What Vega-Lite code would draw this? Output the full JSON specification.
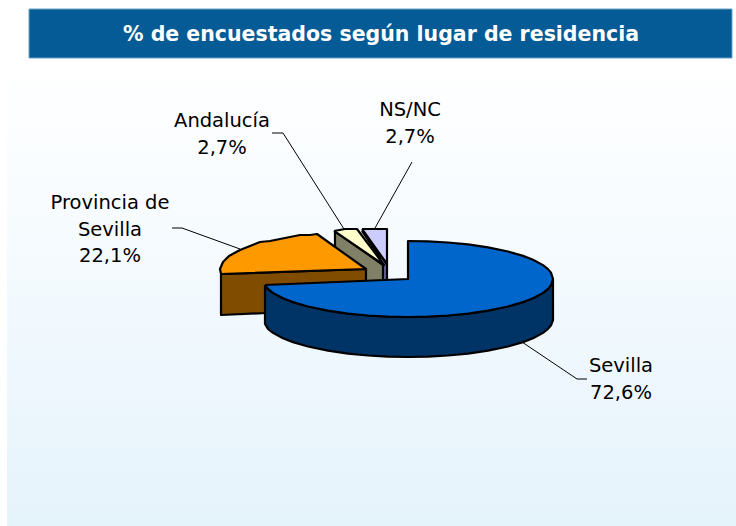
{"$schema":"https://vega.github.io/schema/vega-lite/v6.json","width":736,"height":526,"padding":0,"autosize":{"type":"fit","contains":"padding"},"background":"white","config":{"view":{"stroke":null}},
"datasets":{
"panels":[{"name":"fondo","x":7,"x2":736,"y":60,"y2":526}],
"header":[{"x":29,"x2":732,"y":9,"y2":58}],
"titleRow":[{"x":381,"y":35,"t":"% de encuestados según lugar de residencia"}],
"leaders":[
{"s":"Sevilla","o":1,"x":522,"y":342},{"s":"Sevilla","o":2,"x":577,"y":379},{"s":"Sevilla","o":3,"x":587,"y":379},
{"s":"Provincia","o":1,"x":172,"y":228},{"s":"Provincia","o":2,"x":182,"y":228},{"s":"Provincia","o":3,"x":240,"y":249},
{"s":"Andalucia","o":1,"x":272,"y":133},{"s":"Andalucia","o":2,"x":283,"y":133},{"s":"Andalucia","o":3,"x":344,"y":229},
{"s":"NSNC","o":1,"x":412,"y":162},{"s":"NSNC","o":2,"x":375,"y":228}],
"labels":[
{"cat":"Sevilla","share":72.6,"x":621,"y":366,"t":"Sevilla\n72,6%"},
{"cat":"Provincia de Sevilla","share":22.1,"x":110,"y":203,"t":"Provincia de\nSevilla\n22,1%"},
{"cat":"Andalucía","share":2.7,"x":222,"y":121,"t":"Andalucía\n2,7%"},
{"cat":"NS/NC","share":2.7,"x":410,"y":110,"t":"NS/NC\n2,7%"}],
"outlines":[
{"p":"a NS side","o":1,"x":362,"y":231},{"p":"a NS side","o":2,"x":387,"y":264},{"p":"a NS side","o":3,"x":387,"y":282},{"p":"a NS side","o":4,"x":380,"y":282},{"p":"a NS side","o":5,"x":380,"y":258},{"p":"a NS side","o":6,"x":362,"y":231},
{"p":"b NS top","o":1,"x":362,"y":229},{"p":"b NS top","o":2,"x":387,"y":229},{"p":"b NS top","o":3,"x":387,"y":264},{"p":"b NS top","o":4,"x":362,"y":229},
{"p":"c And side","o":1,"x":335,"y":231},{"p":"c And side","o":2,"x":383,"y":265},{"p":"c And side","o":3,"x":383,"y":282},{"p":"c And side","o":4,"x":335,"y":282},{"p":"c And side","o":5,"x":335,"y":231},
{"p":"d And top","o":1,"x":334,"y":231},{"p":"d And top","o":2,"x":345,"y":229},{"p":"d And top","o":3,"x":357,"y":229},{"p":"d And top","o":4,"x":384,"y":265},{"p":"d And top","o":5,"x":334,"y":231},
{"p":"e Prov side","o":1,"x":221,"y":274},{"p":"e Prov side","o":2,"x":366,"y":269},{"p":"e Prov side","o":3,"x":366,"y":295},{"p":"e Prov side","o":4,"x":300,"y":305},{"p":"e Prov side","o":5,"x":266,"y":313},{"p":"e Prov side","o":6,"x":221,"y":315},{"p":"e Prov side","o":7,"x":221,"y":274},
{"p":"f Prov top","o":1,"x":221,"y":274},{"p":"f Prov top","o":2,"x":220,"y":269},{"p":"f Prov top","o":3,"x":223,"y":262},{"p":"f Prov top","o":4,"x":229,"y":256},{"p":"f Prov top","o":5,"x":240,"y":250},{"p":"f Prov top","o":6,"x":250,"y":246},{"p":"f Prov top","o":7,"x":260,"y":242},{"p":"f Prov top","o":8,"x":270,"y":241},{"p":"f Prov top","o":9,"x":280,"y":239},{"p":"f Prov top","o":10,"x":290,"y":237},{"p":"f Prov top","o":11,"x":300,"y":235},{"p":"f Prov top","o":12,"x":310,"y":235},{"p":"f Prov top","o":13,"x":317,"y":234},{"p":"f Prov top","o":14,"x":366,"y":269},{"p":"f Prov top","o":15,"x":221,"y":274},
{"p":"g Sev side","o":1,"x":265,"y":285},{"p":"g Sev side","o":2,"x":268,"y":288.9},{"p":"g Sev side","o":3,"x":273,"y":292.9},{"p":"g Sev side","o":4,"x":283,"y":298.3},{"p":"g Sev side","o":5,"x":293,"y":302.1},{"p":"g Sev side","o":6,"x":308,"y":306.5},{"p":"g Sev side","o":7,"x":328,"y":310.7},{"p":"g Sev side","o":8,"x":348,"y":313.6},{"p":"g Sev side","o":9,"x":368,"y":315.5},{"p":"g Sev side","o":10,"x":388,"y":316.6},{"p":"g Sev side","o":11,"x":408,"y":317},{"p":"g Sev side","o":12,"x":428,"y":316.6},{"p":"g Sev side","o":13,"x":448,"y":315.5},{"p":"g Sev side","o":14,"x":468,"y":313.6},{"p":"g Sev side","o":15,"x":488,"y":310.7},{"p":"g Sev side","o":16,"x":508,"y":306.5},{"p":"g Sev side","o":17,"x":523,"y":302.1},{"p":"g Sev side","o":18,"x":533,"y":298.3},{"p":"g Sev side","o":19,"x":543,"y":292.9},{"p":"g Sev side","o":20,"x":548,"y":288.9},{"p":"g Sev side","o":21,"x":551,"y":285.3},{"p":"g Sev side","o":22,"x":553,"y":279},{"p":"g Sev side","o":23,"x":553,"y":320},{"p":"g Sev side","o":24,"x":551,"y":325.3},{"p":"g Sev side","o":25,"x":548,"y":328.9},{"p":"g Sev side","o":26,"x":543,"y":332.9},{"p":"g Sev side","o":27,"x":533,"y":338.3},{"p":"g Sev side","o":28,"x":523,"y":342.1},{"p":"g Sev side","o":29,"x":508,"y":346.5},{"p":"g Sev side","o":30,"x":488,"y":350.7},{"p":"g Sev side","o":31,"x":468,"y":353.6},{"p":"g Sev side","o":32,"x":448,"y":355.5},{"p":"g Sev side","o":33,"x":428,"y":356.6},{"p":"g Sev side","o":34,"x":408,"y":357},{"p":"g Sev side","o":35,"x":388,"y":356.6},{"p":"g Sev side","o":36,"x":368,"y":355.5},{"p":"g Sev side","o":37,"x":348,"y":353.6},{"p":"g Sev side","o":38,"x":328,"y":350.7},{"p":"g Sev side","o":39,"x":308,"y":346.5},{"p":"g Sev side","o":40,"x":293,"y":342.1},{"p":"g Sev side","o":41,"x":283,"y":338.3},{"p":"g Sev side","o":42,"x":273,"y":332.9},{"p":"g Sev side","o":43,"x":268,"y":328.9},{"p":"g Sev side","o":44,"x":265,"y":324},{"p":"g Sev side","o":45,"x":265,"y":285},
{"p":"h Sev top","o":1,"x":265,"y":285},{"p":"h Sev top","o":2,"x":408,"y":279},{"p":"h Sev top","o":3,"x":408,"y":241},{"p":"h Sev top","o":4,"x":428,"y":241.4},{"p":"h Sev top","o":5,"x":448,"y":242.5},{"p":"h Sev top","o":6,"x":468,"y":244.4},{"p":"h Sev top","o":7,"x":488,"y":247.3},{"p":"h Sev top","o":8,"x":508,"y":251.5},{"p":"h Sev top","o":9,"x":523,"y":255.9},{"p":"h Sev top","o":10,"x":533,"y":259.7},{"p":"h Sev top","o":11,"x":543,"y":265.1},{"p":"h Sev top","o":12,"x":548,"y":269.1},{"p":"h Sev top","o":13,"x":551,"y":272.7},{"p":"h Sev top","o":14,"x":553,"y":279},{"p":"h Sev top","o":15,"x":551,"y":285.3},{"p":"h Sev top","o":16,"x":548,"y":288.9},{"p":"h Sev top","o":17,"x":543,"y":292.9},{"p":"h Sev top","o":18,"x":533,"y":298.3},{"p":"h Sev top","o":19,"x":523,"y":302.1},{"p":"h Sev top","o":20,"x":508,"y":306.5},{"p":"h Sev top","o":21,"x":488,"y":310.7},{"p":"h Sev top","o":22,"x":468,"y":313.6},{"p":"h Sev top","o":23,"x":448,"y":315.5},{"p":"h Sev top","o":24,"x":428,"y":316.6},{"p":"h Sev top","o":25,"x":408,"y":317},{"p":"h Sev top","o":26,"x":388,"y":316.6},{"p":"h Sev top","o":27,"x":368,"y":315.5},{"p":"h Sev top","o":28,"x":348,"y":313.6},{"p":"h Sev top","o":29,"x":328,"y":310.7},{"p":"h Sev top","o":30,"x":308,"y":306.5},{"p":"h Sev top","o":31,"x":293,"y":302.1},{"p":"h Sev top","o":32,"x":283,"y":298.3},{"p":"h Sev top","o":33,"x":273,"y":292.9},{"p":"h Sev top","o":34,"x":268,"y":288.9},{"p":"h Sev top","o":35,"x":265,"y":285}
]},
"encoding":{
"x":{"field":"x","type":"quantitative","scale":{"domain":[0,736],"nice":false,"zero":false},"axis":null},
"y":{"field":"y","type":"quantitative","scale":{"domain":[526,0],"nice":false,"zero":false},"axis":null}},
"layer":[
{"data":{"name":"panels"},"mark":{"type":"rect","color":{"gradient":"linear","x1":0,"y1":0,"x2":0,"y2":1,"stops":[{"offset":0,"color":"#ffffff"},{"offset":0.3,"color":"#f8fcff"},{"offset":1,"color":"#e5f3fb"}]}},"encoding":{"x2":{"field":"x2"},"y2":{"field":"y2"}}},
{"data":{"name":"header"},"mark":{"type":"rect","fill":"#055b95","stroke":"#6ba3c8","strokeWidth":1},"encoding":{"x2":{"field":"x2"},"y2":{"field":"y2"}}},
{"data":{"name":"titleRow"},"mark":{"type":"text","font":"DejaVu Sans","fontWeight":"bold","fontSize":20.5,"color":"white","align":"center","baseline":"middle"},"encoding":{"text":{"field":"t"}}},
{"data":{"name":"leaders"},"mark":{"type":"line","stroke":"black","strokeWidth":1},"encoding":{"detail":{"field":"s"},"order":{"field":"o"}}},
{"data":{"name":"outlines"},"mark":{"type":"line","stroke":"black","strokeWidth":2.2,"strokeJoin":"round"},"encoding":{"detail":{"field":"p"},"order":{"field":"o"},"fill":{"field":"p","type":"nominal","legend":null,"scale":{"domain":["a NS side","b NS top","c And side","d And top","e Prov side","f Prov top","g Sev side","h Sev top"],"range":["#666699","#ccccff","#808066","#ffffcc","#804c00","#ff9900","#003366","#0066cc"]}}}},
{"data":{"name":"labels"},"mark":{"type":"text","font":"DejaVu Sans","fontSize":19.5,"lineBreak":"\n","lineHeight":26.5,"color":"black","align":"center","baseline":"middle"},"encoding":{"text":{"field":"t"}}}
]}
